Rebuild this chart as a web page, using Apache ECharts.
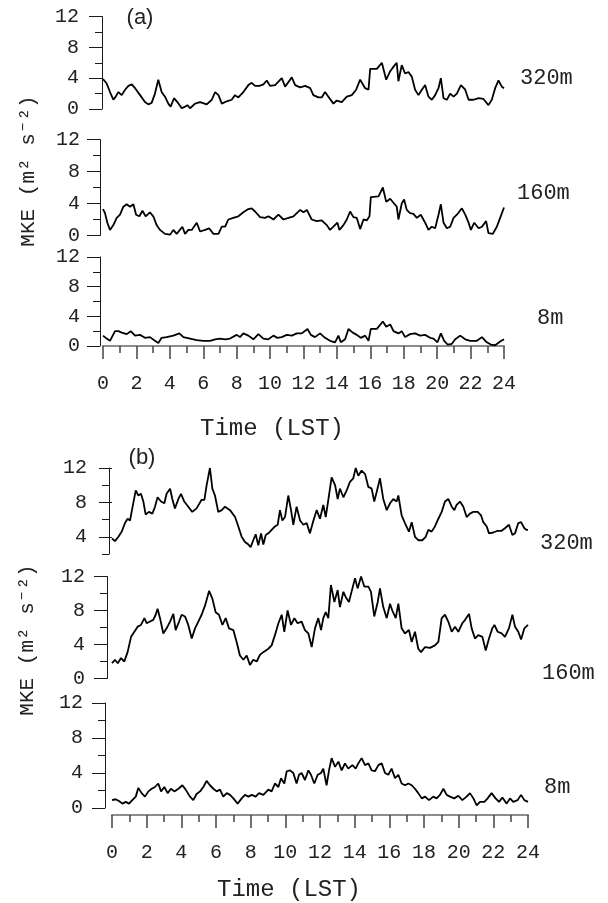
<!DOCTYPE html>
<html><head><meta charset="utf-8">
<script src="https://cdn.jsdelivr.net/npm/echarts@6/dist/echarts.min.js"></script>
<style>html,body{margin:0;padding:0;background:#fff}#c{width:608px;height:903px}</style>
</head><body><div id="c"></div>
<script>
// ---------- data (hour LST, MKE m2 s-2) ----------
const hourMin = 0, hourMax = 24, hourStep = 2;
const yTicksFull = [0, 4, 8, 12];
const yTicksTopB = [4, 8, 12];
const heightNames = ['320m', '160m', '8m'];
const panelNames = ['(a)', '(b)'];
const titleX = 'Time (LST)';
const titleY = 'MKE (m\u00B2 s\u207B\u00B2)';

const a320 = [[0,3.9],[0.22,3.3],[0.42,2.2],[0.62,1.2],[0.76,1.6],[0.92,2.2],[1.12,1.8],[1.32,2.5],[1.52,3.0],[1.72,3.2],[1.92,2.7],[2.22,1.8],[2.51,0.9],[2.71,0.6],[2.91,0.8],[3.11,2.0],[3.31,3.8],[3.51,2.2],[3.71,1.6],[3.91,0.7],[4.05,0.3],[4.25,1.4],[4.45,0.9],[4.71,0.1],[4.91,0.3],[5.05,0.5],[5.21,0.1],[5.51,0.7],[5.81,0.9],[6.21,0.6],[6.51,1.2],[6.71,2.2],[6.91,1.8],[7.11,0.7],[7.41,1.0],[7.70,1.2],[7.90,1.8],[8.10,1.5],[8.40,2.2],[8.70,3.1],[8.90,3.4],[9.10,3.0],[9.36,3.0],[9.60,3.2],[9.80,3.7],[10.00,3.0],[10.30,3.1],[10.70,4.0],[10.90,2.9],[11.10,3.5],[11.30,4.1],[11.50,3.1],[11.80,2.8],[12.10,3.0],[12.40,2.7],[12.59,1.8],[12.89,1.5],[13.09,1.5],[13.29,2.2],[13.49,1.6],[13.79,0.7],[13.99,1.1],[14.29,0.9],[14.59,1.6],[14.89,1.8],[15.15,2.5],[15.39,3.8],[15.69,2.7],[15.89,2.5],[15.99,5.2],[16.39,5.2],[16.69,6.0],[16.95,3.8],[17.19,4.9],[17.39,5.5],[17.58,6.0],[17.68,3.6],[17.88,5.7],[18.08,4.6],[18.28,4.8],[18.48,4.2],[18.68,2.5],[18.88,1.8],[19.08,2.5],[19.28,3.1],[19.48,1.6],[19.68,1.2],[19.88,1.8],[20.08,2.7],[20.22,4.0],[20.38,1.4],[20.58,1.2],[20.78,2.0],[20.98,1.6],[21.18,2.0],[21.42,3.1],[21.68,2.5],[21.88,1.2],[22.18,1.2],[22.48,1.4],[22.77,1.3],[23.07,0.5],[23.27,1.2],[23.47,2.7],[23.67,3.7],[23.87,2.9],[24.0,2.7]];

const a160 = [[0,3.3],[0.12,2.8],[0.26,1.6],[0.42,0.7],[0.62,1.3],[0.82,2.2],[1.02,2.6],[1.22,3.6],[1.42,3.9],[1.62,3.6],[1.82,3.9],[1.98,2.6],[2.18,2.4],[2.36,3.1],[2.55,2.4],[2.81,2.9],[3.01,2.4],[3.21,1.3],[3.41,0.7],[3.71,0.2],[4.01,0.1],[4.21,0.7],[4.41,0.2],[4.75,1.1],[4.91,0.2],[5.11,0.7],[5.31,0.7],[5.61,1.6],[5.81,0.5],[6.11,0.7],[6.35,0.9],[6.61,0.2],[6.91,0.2],[7.11,1.1],[7.31,1.1],[7.50,2.0],[7.80,2.2],[8.10,2.4],[8.40,2.9],[8.70,3.3],[8.90,3.4],[9.10,3.0],[9.40,2.3],[9.70,2.2],[9.90,2.4],[10.20,2.0],[10.50,2.6],[10.80,2.0],[11.10,2.2],[11.40,2.4],[11.80,3.2],[12.00,2.9],[12.20,3.2],[12.49,2.0],[12.79,1.8],[13.09,1.9],[13.39,1.3],[13.59,0.7],[13.79,1.1],[14.03,1.6],[14.15,0.7],[14.39,1.3],[14.59,2.0],[14.79,3.0],[14.99,2.3],[15.19,2.2],[15.39,0.8],[15.59,2.0],[15.79,1.9],[15.95,2.4],[16.03,4.8],[16.49,4.9],[16.75,6.0],[16.95,4.2],[17.19,4.6],[17.42,4.0],[17.58,3.6],[17.68,2.0],[17.88,4.0],[18.02,4.5],[18.18,3.2],[18.38,2.8],[18.58,2.7],[18.78,2.2],[19.02,2.6],[19.28,1.6],[19.48,0.7],[19.68,1.1],[19.88,0.9],[20.08,2.6],[20.22,3.9],[20.38,1.6],[20.58,0.9],[20.78,1.1],[20.98,2.2],[21.18,2.6],[21.48,3.4],[21.68,2.6],[21.88,1.6],[22.02,0.7],[22.22,1.6],[22.48,0.9],[22.68,1.1],[22.93,1.8],[23.07,0.3],[23.33,0.2],[23.57,1.1],[23.77,2.2],[24.0,3.5]];

const a8 = [[0,1.4],[0.22,1.0],[0.42,0.7],[0.58,1.4],[0.72,2.0],[0.92,2.0],[1.12,1.8],[1.42,1.6],[1.66,2.0],[1.92,1.4],[2.22,1.5],[2.51,1.1],[2.81,1.2],[3.11,0.7],[3.31,0.4],[3.51,1.1],[3.81,1.2],[4.21,1.4],[4.57,1.7],[4.81,1.2],[5.21,1.0],[5.61,0.8],[6.01,0.7],[6.41,0.7],[6.71,0.9],[7.01,1.0],[7.31,0.9],[7.60,1.0],[8.00,1.5],[8.20,1.2],[8.40,1.7],[8.70,1.4],[9.00,0.9],[9.30,1.6],[9.60,1.0],[9.90,0.9],[10.20,1.4],[10.44,1.1],[10.70,1.2],[11.00,1.5],[11.30,1.4],[11.60,1.7],[11.90,1.7],[12.24,2.3],[12.44,1.5],[12.69,1.2],[12.99,1.7],[13.29,1.1],[13.59,0.7],[13.89,0.5],[14.09,1.4],[14.23,0.5],[14.49,0.9],[14.69,2.3],[14.95,1.8],[15.19,1.5],[15.43,1.1],[15.69,1.4],[15.89,0.7],[16.03,2.3],[16.39,2.3],[16.75,3.3],[16.95,2.6],[17.19,2.9],[17.39,2.0],[17.68,1.7],[17.88,2.0],[18.08,1.2],[18.38,1.6],[18.68,1.7],[18.98,1.4],[19.28,1.5],[19.58,1.1],[19.78,1.0],[20.02,0.5],[20.22,1.7],[20.42,0.7],[20.62,0.2],[20.88,0.3],[21.08,0.9],[21.38,1.4],[21.68,0.9],[21.98,0.7],[22.38,0.7],[22.68,1.2],[22.97,0.5],[23.21,0.2],[23.47,0.1],[23.77,0.6],[24.0,0.9]];

const b320 = [[0,3.8],[0.17,3.5],[0.37,4.0],[0.56,4.6],[0.75,5.6],[0.90,6.1],[1.04,5.9],[1.17,7.3],[1.37,9.4],[1.52,8.8],[1.67,9.0],[1.81,8.1],[1.94,6.6],[2.13,6.9],[2.33,6.7],[2.48,7.5],[2.63,8.6],[2.83,8.1],[3.02,7.9],[3.15,9.0],[3.35,9.6],[3.48,8.4],[3.63,7.3],[3.83,8.4],[3.98,9.0],[4.17,8.1],[4.40,7.5],[4.63,6.9],[4.88,7.3],[5.17,8.3],[5.33,8.3],[5.46,10.0],[5.65,12.0],[5.79,9.6],[5.94,8.8],[6.13,6.9],[6.33,7.1],[6.52,7.5],[6.81,7.1],[7.10,6.3],[7.29,5.2],[7.48,4.0],[7.67,3.4],[7.87,3.1],[8.00,2.8],[8.15,3.6],[8.29,4.3],[8.44,3.0],[8.60,4.4],[8.73,3.1],[8.87,4.2],[9.02,4.4],[9.21,4.8],[9.40,5.2],[9.56,5.4],[9.69,7.1],[9.83,5.9],[9.98,6.3],[10.17,8.8],[10.33,7.1],[10.46,5.4],[10.65,7.5],[10.85,5.9],[11.04,5.4],[11.23,5.6],[11.42,4.4],[11.62,5.9],[11.81,7.1],[12.00,6.1],[12.19,7.7],[12.33,6.3],[12.48,8.3],[12.67,10.9],[12.87,10.0],[13.02,8.4],[13.15,9.6],[13.35,8.6],[13.54,9.4],[13.73,10.4],[13.92,10.8],[14.06,12.0],[14.21,11.1],[14.40,11.7],[14.60,11.3],[14.79,9.8],[14.98,9.6],[15.13,8.1],[15.27,9.2],[15.46,10.8],[15.65,8.4],[15.85,7.1],[16.04,7.9],[16.23,8.4],[16.42,8.1],[16.52,8.8],[16.71,6.5],[16.90,5.6],[17.13,4.6],[17.29,5.7],[17.48,4.0],[17.67,3.6],[17.90,3.6],[18.10,4.0],[18.25,4.8],[18.44,4.6],[18.63,5.2],[18.83,6.1],[19.02,6.9],[19.21,8.1],[19.40,8.4],[19.60,7.5],[19.75,7.1],[19.88,7.7],[20.08,8.1],[20.27,7.5],[20.46,6.3],[20.65,6.7],[20.85,6.9],[21.10,6.9],[21.29,6.5],[21.42,5.7],[21.62,5.2],[21.75,4.4],[22.00,4.5],[22.25,4.7],[22.48,4.7],[22.67,5.0],[22.90,5.4],[23.10,4.2],[23.25,4.4],[23.44,5.6],[23.60,5.7],[23.79,5.0],[23.92,4.8],[24.0,4.8]];

const b160 = [[0,1.8],[0.17,2.2],[0.33,1.8],[0.52,2.4],[0.71,2.0],[0.90,3.1],[1.10,4.9],[1.29,5.5],[1.48,6.1],[1.67,6.3],[1.87,7.1],[2.00,6.5],[2.19,6.7],[2.38,6.9],[2.52,7.5],[2.63,8.2],[2.77,7.1],[2.96,5.3],[3.15,5.9],[3.35,6.7],[3.54,7.6],[3.67,5.7],[3.87,6.7],[4.02,7.5],[4.21,7.3],[4.40,6.3],[4.60,4.7],[4.79,5.9],[4.98,6.7],[5.17,7.5],[5.37,8.6],[5.60,10.3],[5.79,9.4],[5.98,7.8],[6.17,7.5],[6.37,6.3],[6.56,7.1],[6.75,5.9],[7.00,5.7],[7.19,4.3],[7.38,2.7],[7.58,2.2],[7.77,2.7],[7.96,1.6],[8.15,2.2],[8.35,2.0],[8.54,2.8],[8.73,3.1],[9.02,3.5],[9.21,3.9],[9.40,5.1],[9.60,6.5],[9.79,7.5],[9.94,5.5],[10.13,8.0],[10.33,6.3],[10.52,7.1],[10.71,6.5],[10.94,6.7],[11.13,5.7],[11.33,5.3],[11.52,3.7],[11.71,5.9],[11.90,7.1],[12.06,5.7],[12.19,7.1],[12.33,7.8],[12.48,7.1],[12.63,11.0],[12.83,9.0],[13.02,10.4],[13.15,8.4],[13.35,10.2],[13.48,9.6],[13.67,9.0],[13.87,10.6],[14.02,11.8],[14.17,10.6],[14.37,12.0],[14.56,10.8],[14.79,10.8],[14.94,10.2],[15.13,7.3],[15.33,9.0],[15.46,10.6],[15.65,8.4],[15.85,7.1],[16.04,8.8],[16.17,8.0],[16.37,7.1],[16.52,8.8],[16.71,5.9],[16.90,5.3],[17.13,5.7],[17.29,4.3],[17.48,5.5],[17.67,3.5],[17.83,3.1],[18.06,3.7],[18.35,3.6],[18.63,3.9],[18.83,4.3],[19.02,7.1],[19.21,7.5],[19.40,6.7],[19.60,5.5],[19.79,6.1],[19.98,5.5],[20.21,6.5],[20.37,6.9],[20.60,7.6],[20.75,5.9],[20.94,4.7],[21.13,5.1],[21.37,4.9],[21.56,3.3],[21.75,4.7],[21.94,5.9],[22.06,6.3],[22.25,5.5],[22.48,5.3],[22.67,4.9],[22.90,5.9],[23.10,7.5],[23.25,6.1],[23.44,5.5],[23.60,4.6],[23.79,5.9],[24.0,6.3]];

const b8 = [[0,0.9],[0.21,1.0],[0.40,0.8],[0.60,0.5],[0.79,0.7],[0.98,0.5],[1.17,0.9],[1.37,1.3],[1.52,2.3],[1.71,1.7],[1.90,1.3],[2.10,1.9],[2.29,2.2],[2.48,2.4],[2.67,2.8],[2.83,1.9],[3.02,2.4],[3.21,1.7],[3.40,2.2],[3.60,1.9],[3.83,2.2],[4.06,2.6],[4.25,2.1],[4.50,1.3],[4.69,0.9],[4.88,1.6],[5.08,1.9],[5.27,2.4],[5.46,3.1],[5.65,2.6],[5.85,2.2],[6.04,1.9],[6.23,2.1],[6.42,1.3],[6.62,1.7],[6.81,1.5],[7.00,1.1],[7.25,0.5],[7.48,1.1],[7.67,1.5],[7.87,1.3],[8.06,1.5],[8.29,1.3],[8.48,1.7],[8.73,1.5],[9.02,2.1],[9.21,1.9],[9.40,2.8],[9.60,2.4],[9.75,3.4],[9.94,2.8],[10.08,4.2],[10.27,4.3],[10.46,4.0],[10.65,2.8],[10.79,3.8],[10.94,4.0],[11.13,3.2],[11.33,4.3],[11.48,3.8],[11.67,2.8],[11.87,3.8],[12.06,4.0],[12.19,4.5],[12.38,2.6],[12.52,4.3],[12.67,5.7],[12.87,4.7],[13.06,5.3],[13.25,4.3],[13.44,5.1],[13.63,4.5],[13.87,4.9],[14.06,4.5],[14.21,5.1],[14.40,5.7],[14.60,4.9],[14.79,5.1],[14.98,4.3],[15.17,4.2],[15.37,4.9],[15.56,5.1],[15.75,4.0],[15.94,3.8],[16.13,4.5],[16.33,3.4],[16.52,3.8],[16.71,2.8],[16.90,2.6],[17.10,2.8],[17.29,2.6],[17.48,2.2],[17.67,1.7],[17.87,1.1],[18.06,1.3],[18.29,0.9],[18.54,1.3],[18.73,1.1],[18.92,1.5],[19.12,2.2],[19.31,1.5],[19.50,1.3],[19.75,1.1],[19.98,1.4],[20.21,0.9],[20.46,1.3],[20.65,1.7],[20.85,1.1],[21.04,0.3],[21.23,0.7],[21.48,0.7],[21.67,1.1],[21.90,1.7],[22.13,1.1],[22.33,0.7],[22.52,1.2],[22.77,0.5],[22.96,1.1],[23.15,0.7],[23.40,0.9],[23.60,1.5],[23.79,0.9],[24.0,0.7]];

const seriesData = [a320, a160, a8, b320, b160, b8];

// ---------- layout / style ----------
const monoFont = '"Liberation Mono", "DejaVu Sans Mono", monospace';
const ink = '#1a1a1a';
const layout = [
  {left:103, top:16.5, width:401, height:92.5, yOff:1, lblMargin:23},
  {left:103, top:139.5, width:401, height:96, yOff:3, lblMargin:20},
  {left:103, top:257, width:401, height:89, yOff:3, lblMargin:20, showX:true, xOff:0},
  {left:112, top:468, width:416, height:86, yOff:3, lblMargin:22, yMin:2},
  {left:112, top:576.5, width:416, height:102, yOff:5, lblMargin:22},
  {left:112, top:703, width:416, height:105, yOff:7, lblMargin:22, showX:true, xOff:7}
];

const grids = layout.map(L => ({left:L.left, top:L.top, width:L.width, height:L.height, containLabel:false}));

const xAxes = layout.map((L, i) => ({
  gridIndex:i, type:'value', min:hourMin, max:hourMax, interval:hourStep,
  show: !!L.showX, position:'bottom', offset: L.xOff || 0,
  axisLine:{show:true, onZero:false, lineStyle:{color:'#8c8c8c', width:2}},
  axisTick:{show:true, length:13, lineStyle:{color:'#444', width:1.5}},
  minorTick:{show:true, splitNumber:2, length:7, lineStyle:{color:'#444', width:1.5}},
  axisLabel:{show:true, margin:28, fontSize:20, fontFamily:monoFont, color:'#222'},
  splitLine:{show:false}, minorSplitLine:{show:false}
}));

const yAxes = layout.map((L, i) => {
  const ax = {
    gridIndex:i, type:'value', min: L.yMin || 0, max:12, position:'left', offset:L.yOff,
    splitLine:{show:false}, minorSplitLine:{show:false},
    axisLine:{show:true, onZero:false, lineStyle:{color:ink, width:1}},
    axisLabel:{show:true, margin:L.lblMargin, fontSize:20, fontFamily:monoFont, color:'#222'}
  };
  if (L.yMin) {
    ax.interval = 2;
    ax.axisTick = {show:true, length:7, lineStyle:{color:ink, width:1}};
    ax.axisLabel.customValues = yTicksTopB;
  } else {
    ax.interval = 4;
    ax.axisTick = {show:true, length:13, lineStyle:{color:ink, width:1}};
    ax.minorTick = {show:true, splitNumber:2, length:7, lineStyle:{color:ink, width:1}};
    ax.axisLabel.customValues = yTicksFull;
  }
  return ax;
});
// overlay axis: long ticks at labelled values for panel (b) top
yAxes.push({
  gridIndex:3, type:'value', min:layout[3].yMin, max:12, interval:2, position:'left', offset:layout[3].yOff,
  axisLine:{show:false}, axisLabel:{show:false}, splitLine:{show:false},
  axisTick:{show:true, length:13, customValues:yTicksTopB, lineStyle:{color:ink, width:1}}
});

const series = seriesData.map((d, i) => ({
  type:'line', xAxisIndex:i, yAxisIndex:i, data:d, showSymbol:false, symbol:'none',
  lineStyle:{color:'#000', width:1.8}, animation:false, silent:true
}));

function txt(x, y, text, size, opts) {
  opts = opts || {};
  return {type:'text', x:x, y:y, rotation:opts.rot || 0, silent:true,
    style:{text:text, fontSize:size, fontFamily:opts.family || monoFont, fill:'#222',
      align:opts.align || 'left', verticalAlign:'middle'}};
}
const heightPos = [[520,78],[517,193],[537,318],[540,543],[542,673],[544,787]];
const graphics = [
  txt(140, 18, panelNames[0], 22, {align:'center', family:'"Liberation Sans", Arial, sans-serif'}),
  txt(142, 458, panelNames[1], 22, {align:'center', family:'"Liberation Sans", Arial, sans-serif'}),
  txt(200, 429, titleX, 24),
  txt(217, 890, titleX, 24),
  txt(28, 171, titleY, 21, {align:'center', rot:Math.PI/2}),
  txt(27, 640, titleY, 21, {align:'center', rot:Math.PI/2})
];
heightPos.forEach((p, i) => graphics.push(txt(p[0], p[1], heightNames[i % 3], 22)));

const chart = echarts.init(document.getElementById('c'), null, {renderer:'canvas'});
chart.setOption({
  backgroundColor:'#fff', animation:false,
  grid:grids, xAxis:xAxes, yAxis:yAxes, series:series, graphic:graphics
});
</script></body></html>
